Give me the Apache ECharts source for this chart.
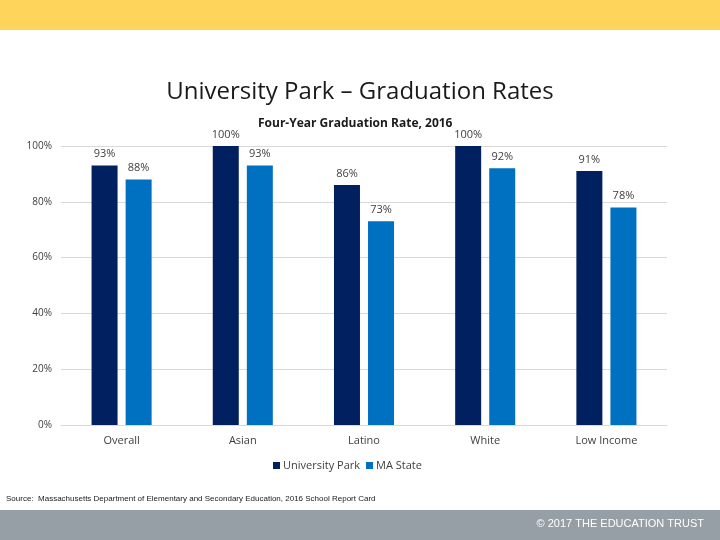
<!DOCTYPE html>
<html>
<head>
<meta charset="utf-8">
<script src="https://cdn.jsdelivr.net/npm/echarts@6/dist/echarts.min.js"></script>
<style>html,body{margin:0;padding:0;background:#fff}#c{width:720px;height:540px}</style>
</head>
<body>
<div id="c"></div>
<script>
const categories = ['Overall', 'Asian', 'Latino', 'White', 'Low Income'];
const universityPark = [93, 100, 86, 100, 91];
const maState = [88, 93, 73, 92, 78];
const yTicks = [0, 20, 40, 60, 80, 100];

const chart = echarts.init(document.getElementById('c'));
const font = 'Open Sans';
chart.setOption({
  animation: false,
  backgroundColor: '#ffffff',
  title: [
    { text: 'University Park \u2013 Graduation Rates', left: 'center', top: 75,
      textStyle: { fontFamily: font, fontSize: 24, fontWeight: 'normal', color: '#1a1a1a' } },
    { text: 'Four-Year Graduation Rate, 2016', left: 253, top: 113,
      textStyle: { fontFamily: font, fontSize: 12, fontWeight: 'bold', color: '#1a1a1a' } }
  ],
  legend: {
    data: ['University Park', 'MA State'],
    left: 268, top: 455,
    itemWidth: 7, itemHeight: 7, itemGap: 6,
    icon: 'rect',
    textStyle: { fontFamily: font, fontSize: 11, color: '#404040', padding: [0, 0, 0, -2] }
  },
  grid: { left: 61, right: 53, top: 146, bottom: 115, containLabel: false },
  xAxis: {
    type: 'category', data: categories,
    axisLine: { lineStyle: { color: '#d9d9d9' } },
    axisTick: { show: false },
    axisLabel: { fontFamily: font, fontSize: 11, color: '#404040', margin: 10 }
  },
  yAxis: {
    type: 'value', min: 0, max: 100, interval: 20,
    axisLine: { show: false }, axisTick: { show: false },
    splitLine: { lineStyle: { color: '#d9d9d9' } },
    axisLabel: { fontFamily: font, fontSize: 10, color: '#404040', margin: 9,
      formatter: v => yTicks.includes(v) ? v + '%' : '' }
  },
  series: [
    { name: 'University Park', type: 'bar', data: universityPark, barWidth: 26, barGap: '31%',
      itemStyle: { color: '#002060' },
      label: { show: true, position: 'top', distance: 6, formatter: '{c}%',
        fontFamily: font, fontSize: 11, color: '#404040' } },
    { name: 'MA State', type: 'bar', data: maState, barWidth: 26,
      itemStyle: { color: '#0070c0' },
      label: { show: true, position: 'top', distance: 6, formatter: '{c}%',
        fontFamily: font, fontSize: 11, color: '#404040' } }
  ],
  graphic: [
    { type: 'rect', shape: { x: 0, y: 0, width: 720, height: 30 }, style: { fill: '#fed45b' }, silent: true },
    { type: 'rect', shape: { x: 0, y: 510, width: 720, height: 30 }, style: { fill: '#969fa5' }, silent: true },
    { type: 'text', left: 6, top: 495,
      style: { text: 'Source:  Massachusetts Department of Elementary and Secondary Education, 2016 School Report Card',
        fontFamily: 'Liberation Sans', fontSize: 8, fill: '#1a1a1a' } },
    { type: 'text', right: 16, top: 518,
      style: { text: '\u00a9 2017 THE EDUCATION TRUST', fontFamily: 'Liberation Sans', fontSize: 11, fill: '#ffffff' } }
  ]
});
</script>
</body>
</html>
